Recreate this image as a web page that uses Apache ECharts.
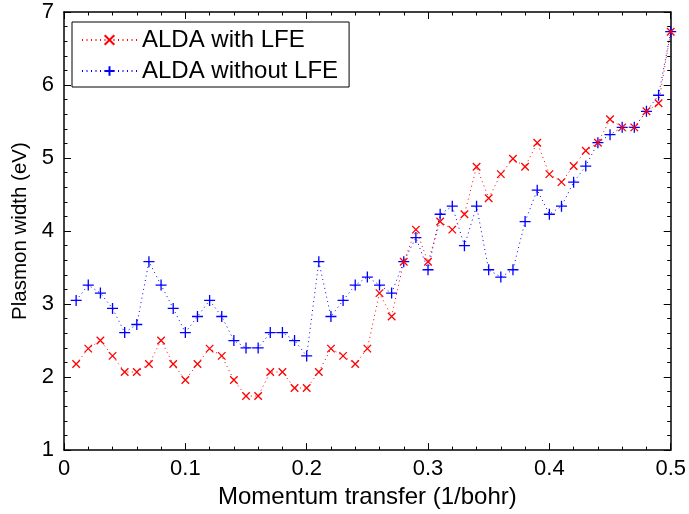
<!DOCTYPE html>
<html>
<head>
<meta charset="utf-8">
<script src="https://cdn.jsdelivr.net/npm/echarts@6/dist/echarts.min.js"></script>
<style>
  html, body { margin: 0; padding: 0; background: #fff; }
  #main { width: 689px; height: 514px; }
</style>
</head>
<body>
<div id="main"></div>
<script>
// momentum transfer (1/bohr)
var qValues = [0.01, 0.02, 0.03, 0.04, 0.05, 0.06, 0.07, 0.08, 0.09, 0.10,
    0.11, 0.12, 0.13, 0.14, 0.15, 0.16, 0.17, 0.18, 0.19, 0.20,
    0.21, 0.22, 0.23, 0.24, 0.25, 0.26, 0.27, 0.28, 0.29, 0.30,
    0.31, 0.32, 0.33, 0.34, 0.35, 0.36, 0.37, 0.38, 0.39, 0.40,
    0.41, 0.42, 0.43, 0.44, 0.45, 0.46, 0.47, 0.48, 0.49, 0.50];

// plasmon width (eV), ALDA with LFE
var withLFE = [2.18, 2.39, 2.50, 2.29, 2.07, 2.07, 2.18, 2.50, 2.18, 1.96,
    2.18, 2.39, 2.29, 1.96, 1.74, 1.74, 2.07, 2.07, 1.85, 1.85,
    2.07, 2.39, 2.29, 2.18, 2.39, 3.15, 2.83, 3.58, 4.02, 3.58,
    4.13, 4.02, 4.23, 4.88, 4.45, 4.78, 4.99, 4.88, 5.21, 4.78,
    4.67, 4.89, 5.10, 5.21, 5.53, 5.42, 5.42, 5.64, 5.75, 6.73];

// plasmon width (eV), ALDA without LFE
var withoutLFE = [3.05, 3.26, 3.15, 2.94, 2.61, 2.72, 3.58, 3.26, 2.94, 2.61,
    2.83, 3.05, 2.83, 2.50, 2.40, 2.40, 2.61, 2.61, 2.50, 2.29,
    3.58, 2.83, 3.05, 3.26, 3.37, 3.26, 3.15, 3.58, 3.91, 3.47,
    4.23, 4.34, 3.80, 4.34, 3.47, 3.37, 3.47, 4.13, 4.56, 4.23,
    4.34, 4.67, 4.89, 5.21, 5.32, 5.42, 5.42, 5.64, 5.86, 6.73];

var seriesNames = ['ALDA with LFE', 'ALDA without LFE'];

function pairs(xs, ys) {
    let out = [];
    for (let i = 0; i < xs.length; i++) {
        out.push([xs[i], ys[i]]);
    }
    return out;
}

var font = 'Liberation Sans, Arial, Helvetica, sans-serif';
var crossPath = 'path://M0,0L10,10M10,0L0,10';
var plusPath = 'path://M5,0L5,10M0,5L10,5';

var chart = echarts.init(document.getElementById('main'));

// box-style axis with inward ticks (left/bottom labelled, top/right bare)
function tickAxis(show, pos) {
    return {
        show: true,
        position: pos,
        axisLine: {show: true, onZero: false, lineStyle: {color: '#000', width: 1.5}},
        axisTick: {show: true, inside: true, length: 7, lineStyle: {color: '#000'}},
        minorTick: {show: true, splitNumber: 5, length: 3.5, lineStyle: {color: '#000'}},
        splitLine: {show: false},
        axisLabel: {show: show, color: '#000', fontSize: 22, fontFamily: font}
    };
}

var xBottom = Object.assign(tickAxis(true, 'bottom'), {
    type: 'value', min: 0, max: 0.5, interval: 0.1,
    name: 'Momentum transfer (1/bohr)', nameLocation: 'middle', nameGap: 31,
    nameTextStyle: {color: '#000', fontSize: 24, fontFamily: font}
});
xBottom.axisLabel.margin = 8;
var xTop = Object.assign(tickAxis(false, 'top'), {type: 'value', min: 0, max: 0.5, interval: 0.1});
var yLeft = Object.assign(tickAxis(true, 'left'), {
    type: 'value', min: 1, max: 7, interval: 1,
    name: 'Plasmon width (eV)', nameLocation: 'middle', nameGap: 29,
    nameTextStyle: {color: '#000', fontSize: 20.5, fontFamily: font}
});
yLeft.axisLabel.margin = 10;
var yRight = Object.assign(tickAxis(false, 'right'), {type: 'value', min: 1, max: 7, interval: 1});

var option = {
    animation: false,
    backgroundColor: '#fff',
    grid: {left: 64, right: 16, top: 12, bottom: 63},
    legend: {
        left: 72, top: 22,
        orient: 'vertical',
        data: seriesNames,
        backgroundColor: '#fff',
        borderColor: '#000',
        borderWidth: 1,
        borderRadius: 0,
        padding: [6, 11, 4, 9],
        itemGap: 7,
        itemWidth: 55,
        itemHeight: 12,
        textStyle: {color: '#000', fontSize: 24, fontFamily: font}
    },
    xAxis: [xBottom, xTop],
    yAxis: [yLeft, yRight],
    series: [
        {
            name: seriesNames[0],
            type: 'line',
            xAxisIndex: 0, yAxisIndex: 0,
            data: pairs(qValues, withLFE),
            symbol: crossPath,
            symbolSize: 7.5,
            showAllSymbol: true,
            lineStyle: {color: '#ff0000', width: 1, type: [1, 3.5]},
            itemStyle: {color: 'rgba(0,0,0,0)', borderColor: '#ff0000', borderWidth: 1.3},
            z: 3
        },
        {
            name: seriesNames[1],
            type: 'line',
            xAxisIndex: 0, yAxisIndex: 0,
            data: pairs(qValues, withoutLFE),
            symbol: plusPath,
            symbolSize: 11,
            showAllSymbol: true,
            lineStyle: {color: '#0000ff', width: 1, type: [1, 3.5]},
            itemStyle: {color: 'rgba(0,0,0,0)', borderColor: '#0000ff', borderWidth: 1.3},
            z: 2
        }
    ]
};
chart.setOption(option);
</script>
</body>
</html>
